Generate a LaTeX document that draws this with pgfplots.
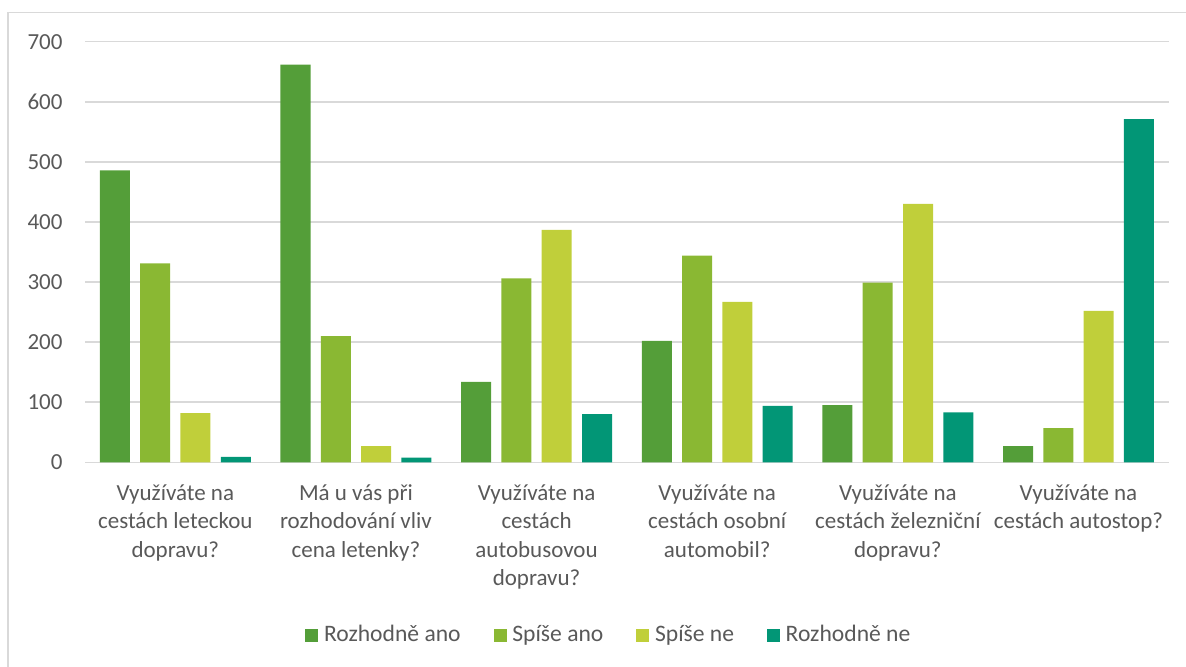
\documentclass[border=0pt]{standalone}
\usepackage{pgfplots}
\pgfplotsset{compat=1.18}
\usepackage{fontspec}
\setmainfont{Carlito}
\definecolor{c1}{HTML}{549E39}
\definecolor{c2}{HTML}{8AB833}
\definecolor{c3}{HTML}{C0CF3A}
\definecolor{c4}{HTML}{029676}
\definecolor{txt}{HTML}{595959}
\definecolor{grd}{HTML}{D9D9D9}
\begin{document}
\begin{tikzpicture}
\useasboundingbox (-42.5pt,-101.85pt) rectangle (550.5pt,231.15pt);
\draw[grd, line width=0.6pt] (-38.5pt,-110pt) -- (-38.5pt,225.0pt) -- (560pt,225.0pt);
\begin{axis}[
  at={(0,0)}, anchor=south west,
  scale only axis,
  width=541.9pt, height=210.3pt,
  ybar=5.15pt, bar width=15pt,
  xmin=-0.5, xmax=5.5,
  ymin=0, ymax=700,
  ytick={0,100,...,700},
  xtick={0,1,2,3,4,5},
  xticklabels={{Využíváte na\\cestách leteckou\\dopravu?},
               {Má u vás při\\rozhodování vliv\\cena letenky?},
               {Využíváte na\\cestách\\autobusovou\\dopravu?},
               {Využíváte na\\cestách osobní\\automobil?},
               {Využíváte na\\cestách železniční\\dopravu?},
               {Využíváte na\\cestách autostop?}},
  axis line style={draw=none},
  major tick length=0pt,
  ymajorgrids,
  grid style={grd, line width=0.75pt},
  tick label style={font=\fontsize{11.5}{14.3}\selectfont, text=txt},
  /pgf/number format/assume math mode=true,
  yticklabel style={xshift=-7.7pt},
  xticklabel style={align=center, anchor=north, yshift=-7.5pt},
  legend columns=4,
  legend style={draw=none, fill=none, at={(0.4825,-0.4106)}, anchor=center,
    font=\fontsize{11.8}{13}\selectfont, text=txt,
    nodes={inner sep=0pt},
    /tikz/every even column/.append style={column sep=16.5pt},
    inner sep=0pt},
  legend image code/.code={\fill[#1] (0pt,-3.25pt) rectangle (6.5pt,3.25pt); \path (9.3pt,0pt);},
  legend cell align=left,
]
\addplot[fill=c1, draw=none] coordinates {(0,486) (1,662) (2,134) (3,202) (4,95) (5,27)};
\addplot[fill=c2, draw=none] coordinates {(0,331) (1,210) (2,306) (3,344) (4,299) (5,57)};
\addplot[fill=c3, draw=none] coordinates {(0,82) (1,27) (2,387) (3,267) (4,430) (5,252)};
\addplot[fill=c4, draw=none] coordinates {(0,9) (1,8) (2,80) (3,94) (4,83) (5,571)};
\legend{Rozhodně ano, Spíše ano, Spíše ne, Rozhodně ne}
\end{axis}
\end{tikzpicture}
\end{document}
